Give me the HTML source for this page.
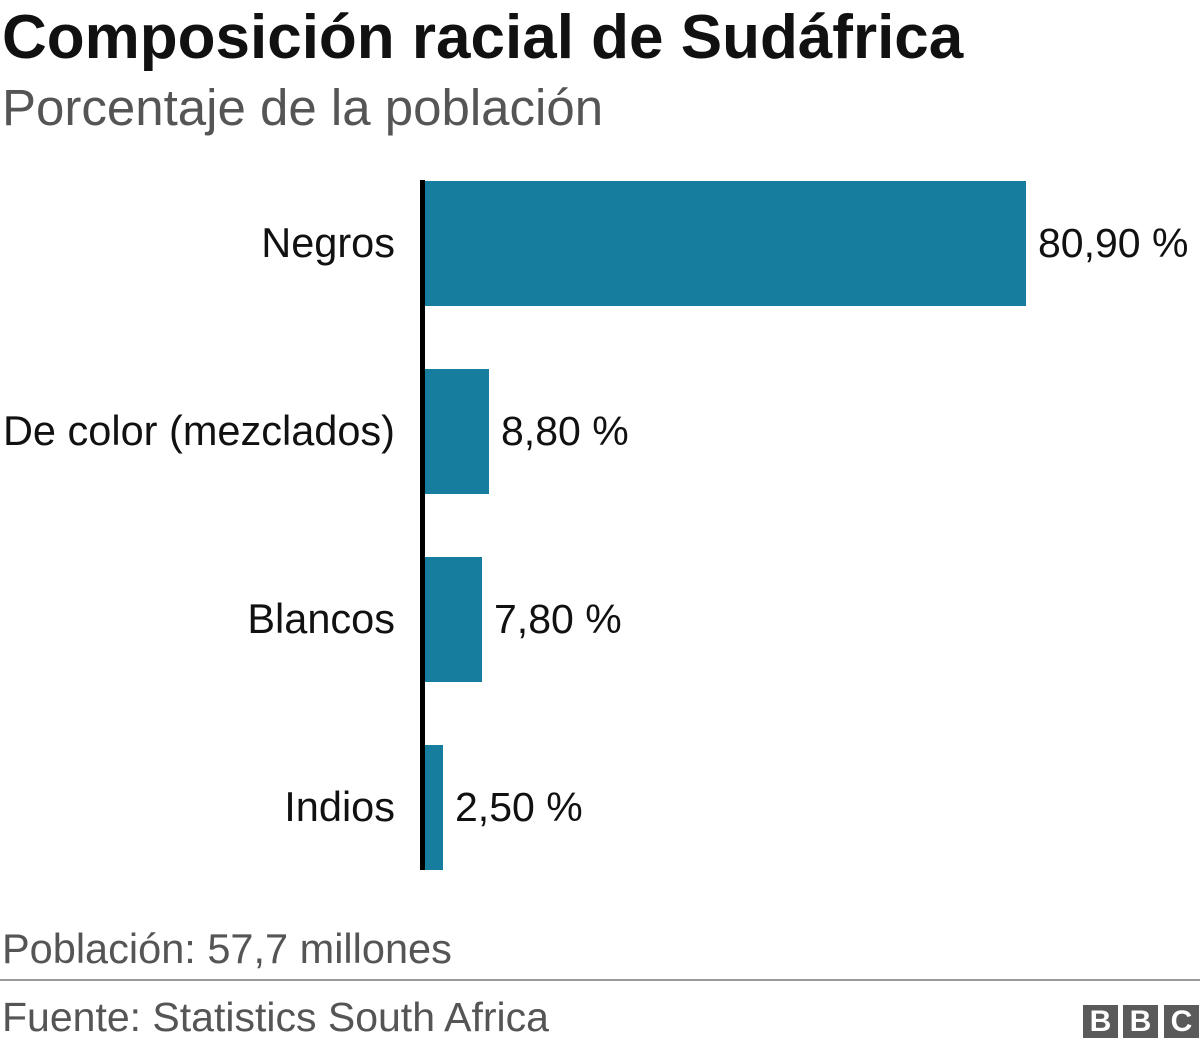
<!DOCTYPE html>
<html><head><meta charset="utf-8"><style>
body{margin:0;width:1200px;height:1051px;background:#fff;font-family:"Liberation Sans",Arial,sans-serif;position:relative;overflow:hidden}
.a{position:absolute;white-space:nowrap}
.bar{position:absolute;left:425px;height:125px;background:#167d9e}
.lab{position:absolute;right:805px;font-size:41.5px;color:#111;line-height:40px;white-space:nowrap}
.val{position:absolute;font-size:41px;color:#111;line-height:40px;white-space:nowrap}
.bb{position:absolute;top:1005px;width:35px;height:33px;background:#5a5a5a;color:#fff;font-weight:bold;font-size:30px;text-align:center;line-height:34px}
</style></head><body>
<div class="a" style="left:2px;top:2px;font-size:62px;line-height:72px;font-weight:bold;color:#111">Composición racial de Sudáfrica</div>
<div class="a" style="left:2px;top:78px;font-size:51px;line-height:60px;color:#555">Porcentaje de la población</div>
<div style="position:absolute;left:420px;top:180px;width:5px;height:690px;background:#000"></div>
<div class="bar" style="top:181px;width:601px"></div>
<div class="bar" style="top:369px;width:64px"></div>
<div class="bar" style="top:557px;width:57px"></div>
<div class="bar" style="top:745px;width:18px"></div>
<div class="lab" style="top:223px">Negros</div>
<div class="lab" style="top:411px">De color (mezclados)</div>
<div class="lab" style="top:599px">Blancos</div>
<div class="lab" style="top:787px">Indios</div>
<div class="val" style="left:1038px;top:223px">80,90 %</div>
<div class="val" style="left:501px;top:411px">8,80 %</div>
<div class="val" style="left:494px;top:599px">7,80 %</div>
<div class="val" style="left:455px;top:787px">2,50 %</div>
<div class="a" style="left:2px;top:926px;font-size:41.5px;line-height:46px;color:#555">Población: 57,7 millones</div>
<div style="position:absolute;left:0;top:979px;width:1200px;height:2px;background:#999"></div>
<div class="a" style="left:2px;top:994px;font-size:41px;line-height:46px;color:#555">Fuente: Statistics South Africa</div>
<div class="bb" style="left:1083px">B</div>
<div class="bb" style="left:1123px">B</div>
<div class="bb" style="left:1164px">C</div>
</body></html>
